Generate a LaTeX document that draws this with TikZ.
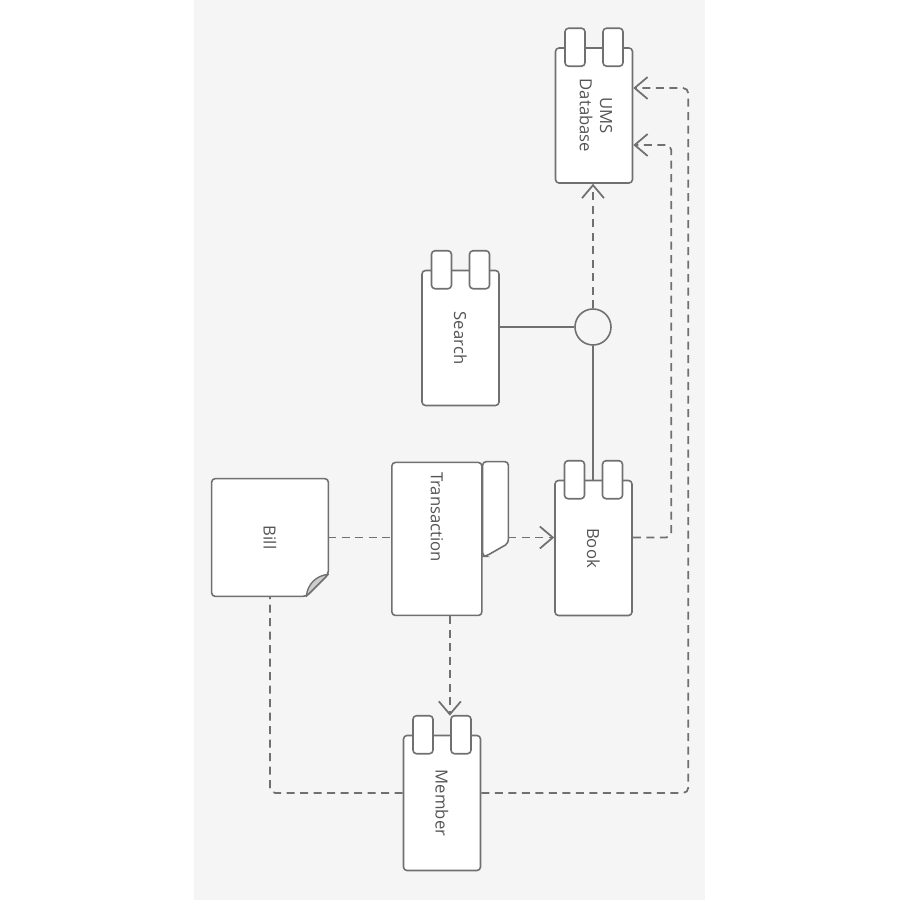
\documentclass[tikz,border=0pt]{standalone}
\usepackage{fontspec}
\setmainfont{Open Sans}
\usepackage{graphicx}
\usetikzlibrary{arrows.meta,positioning}
\definecolor{umlline}{RGB}{112,112,112}
\definecolor{umltext}{RGB}{85,85,85}
\definecolor{umlbg}{RGB}{245,245,245}

\begin{document}
\begin{tikzpicture}[x=0.2mm, y=-0.2mm,
    comp/.style={rectangle, draw=umlline, fill=white, line width=0.9pt, rounded corners=2pt,
                 minimum width=15.4mm, minimum height=27mm, inner sep=0pt,
                 text=umltext, font=\fontsize{9.5}{11.5}\selectfont},
    comptab/.style={draw=umlline, fill=white, line width=0.9pt, rounded corners=2pt},
    pkg/.style={rectangle, draw=umlline, fill=white, line width=0.9pt, rounded corners=2pt,
                minimum width=18mm, minimum height=30.6mm, inner sep=0pt},
    notebox/.style={rectangle, minimum width=23.2mm, minimum height=23.4mm, inner sep=0pt},
    lbl/.style={inner sep=0pt, text=umltext, font=\fontsize{9.5}{11.5}\selectfont},
    iface/.style={circle, draw=umlline, fill=umlbg, line width=0.9pt, minimum size=7.2mm, inner sep=0pt},
    assoc/.style={draw=umlline, line width=0.9pt},
    dep/.style={draw=umlline, line width=1pt, dash pattern=on 1.6mm off 1.1mm, rounded corners=3pt},
    deparrow/.style={dep, -{Straight Barb[length=2.6mm,width=4.4mm]}}]

% canvas
\useasboundingbox (0,0) rectangle (900,900);
\fill[white] (0,0) rectangle (900,900);
\fill[umlbg] (194,0) rectangle (705,900);

% components
\node[comp] (db) at (594,115.5) {\rotatebox{-90}{\begin{tabular}{@{}c@{}}UMS\\Database\end{tabular}}};
\node[comp] (search) at (460.5,338) {\rotatebox{-90}{Search}};
\node[iface] (iface) at (593,327) {};
\node[comp] (book) at (593.5,548) {\rotatebox{-90}{Book}};
\node[comp] (member) at (442,803) {\rotatebox{-90}{Member}};

\foreach \c in {db,search,book,member}
  \foreach \dx in {-3.8mm,3.8mm}
    \draw[comptab] ([xshift=\dx]\c.north) ++(-2mm,-3.8mm) rectangle ++(4mm,7.6mm);

% package
\node[inner sep=0pt, minimum width=5mm, minimum height=18.8mm] (transtab) at (495.5,509) {};
\draw[comptab] (transtab.north west) -- (transtab.north east)
    -- ([yshift=2.6mm]transtab.south east) -- ([xshift=0.6mm]transtab.south west)
    -- (transtab.south west) -- cycle;
\node[pkg, anchor=north east] (trans) at (transtab.north west) {};
\node[lbl, below=2mm of trans.north] (translbl) {\rotatebox{-90}{Transaction}};

% note
\node[notebox] (bill) at (270,537.5) {};
\draw[comptab] (bill.south west) -- (bill.north west) -- (bill.north east)
    -- ([yshift=4.4mm]bill.south east) -- ([xshift=-4.4mm]bill.south east) -- cycle;
\draw[draw=umlline, fill=umlline!35, line width=0.8pt, line join=round]
    ([yshift=4.4mm]bill.south east) to[bend right=40] ([xshift=-4.4mm]bill.south east) -- cycle;
\node[lbl] (billtxt) at (bill) {\rotatebox{-90}{Bill}};

% connectors
\draw[assoc] (search.east |- iface) -- (iface.west);
\draw[assoc] (iface.south) -- (iface.south |- book.north);
\draw[deparrow] (iface.north) -- (iface.north |- db.south);

\draw[dep] (bill.east) -- (trans.west |- bill.east);
\draw[deparrow] (transtab.east |- bill.east) -- (book.west |- bill.east);

\coordinate (tout) at ([xshift=2.6mm]trans.south);
\coordinate (memtop) at ([yshift=3.8mm]member.north);
\draw[deparrow] (tout) -- (tout |- memtop);

\draw[deparrow] (book.east |- bill.east) -| ([xshift=7.6mm,yshift=-5.9mm]db.east) -- ([yshift=-5.9mm]db.east);
\draw[deparrow] ([yshift=2mm]member.east) -| ([xshift=11mm,yshift=5.5mm]db.east) -- ([yshift=5.5mm]db.east);
\draw[dep] ([yshift=2mm]member.west) -| (bill.south);

\end{tikzpicture}
\end{document}
